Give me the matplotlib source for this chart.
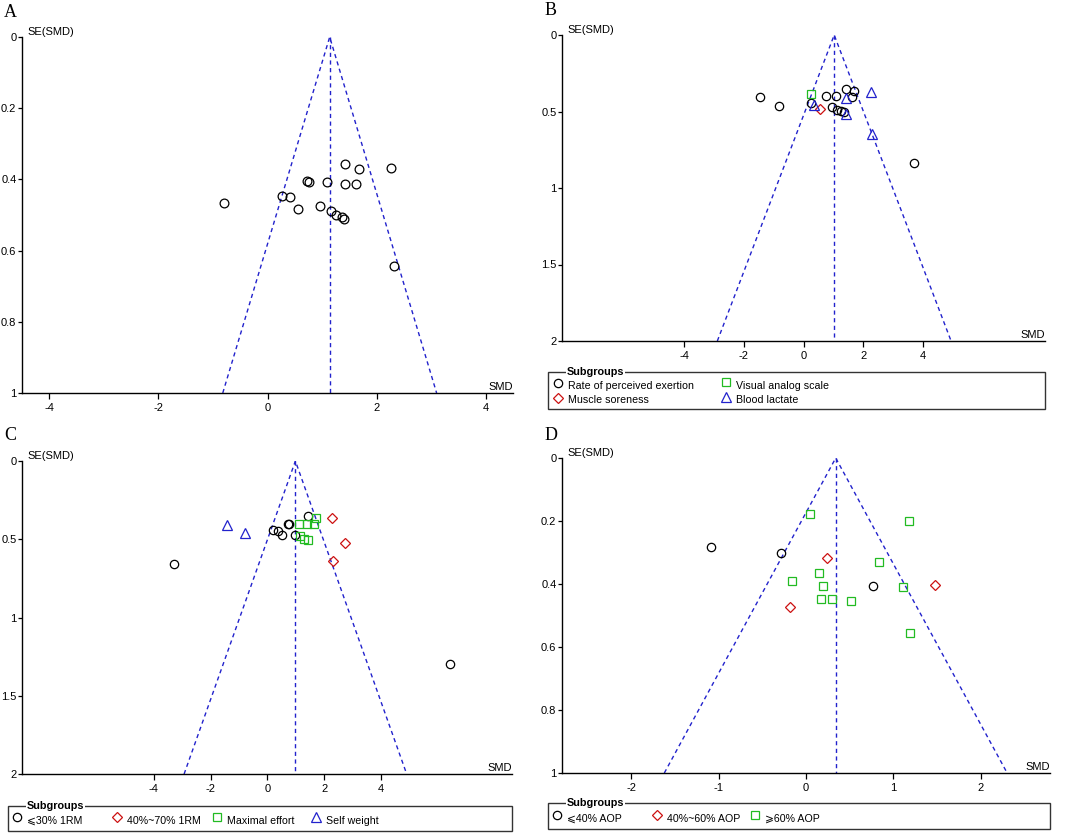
import matplotlib.pyplot as plt
from matplotlib.lines import Line2D
from matplotlib.patches import Rectangle

plt.rcParams['font.family'] = ['Liberation Sans', 'DejaVu Sans']

W, H = 1065, 835

BLACK = 'black'
RED = '#cc1111'
GREEN = '#22bb22'
BLUE = '#2222cc'

# ---- panel A: all studies ----
a_pooled = 1.14
a_smd = [1.42, 1.68, 2.26, 0.72, 0.76, 1.09, 1.42, 1.63, 0.26, 0.41,
         -0.80, 0.56, 0.96, 1.16, 1.26, 1.36, 1.40, 2.32]
a_se = [0.356, 0.371, 0.367, 0.404, 0.407, 0.407, 0.412, 0.412, 0.448, 0.450,
        0.467, 0.482, 0.476, 0.490, 0.499, 0.507, 0.511, 0.642]

# ---- panel B: outcome subgroups ----
b_pooled = 1.03
b_rpe_smd = [-1.45, -0.81, 0.25, 0.75, 1.09, 1.44, 1.70, 1.64, 0.95, 1.14, 1.26, 1.37, 3.70]
b_rpe_se = [0.408, 0.461, 0.442, 0.401, 0.401, 0.353, 0.364, 0.405, 0.470, 0.487, 0.495, 0.504, 0.838]
b_ms_smd = [0.55]
b_ms_se = [0.481]
b_vas_smd = [0.24]
b_vas_se = [0.388]
b_bl_smd = [0.35, 1.42, 2.26, 1.42, 2.31]
b_bl_se = [0.456, 0.415, 0.371, 0.515, 0.648]

# ---- panel C: load subgroups ----
c_pooled = 0.99
c_low_smd = [-3.28, 6.44, 1.43, 0.73, 0.75, 0.21, 0.36, 0.53, 0.97]
c_low_se = [0.657, 1.296, 0.351, 0.400, 0.403, 0.442, 0.446, 0.474, 0.470]
c_mid_smd = [2.29, 2.75, 2.31]
c_mid_se = [0.366, 0.521, 0.638]
c_max_smd = [1.70, 1.10, 1.40, 1.63, 1.16, 1.28, 1.42]
c_max_se = [0.362, 0.401, 0.405, 0.405, 0.482, 0.497, 0.503]
c_sw_smd = [-1.43, -0.80]
c_sw_se = [0.410, 0.463]

# ---- panel D: AOP subgroups ----
d_pooled = 0.34
d_low_smd = [-1.09, -0.29, 0.77]
d_low_se = [0.283, 0.303, 0.407]
d_mid_smd = [0.24, -0.18, 1.47]
d_mid_se = [0.319, 0.473, 0.404]
d_high_smd = [0.05, 1.18, 0.83, 0.15, -0.16, 0.19, 0.17, 0.30, 0.51, 1.11, 1.19]
d_high_se = [0.177, 0.199, 0.329, 0.365, 0.392, 0.407, 0.448, 0.448, 0.455, 0.410, 0.557]


def fx(px):
    return px / W


def fy(py):
    return 1 - py / H


def funnel(rect, letter, letter_xy, pooled, groups, xlim, xticks, ymax, yticks, yfmt):
    l, t, r, b = rect
    ax = fig.add_axes([fx(l), fy(b), fx(r) - fx(l), fy(t) - fy(b)])
    # funnel limits (95% pseudo CI)
    ax.plot([pooled - 1.96 * ymax, pooled, pooled + 1.96 * ymax], [ymax, 0, ymax],
            color=BLUE, lw=1.0, ls=(0, (3, 2.5)), zorder=1)
    ax.plot([pooled, pooled], [0, ymax], color=BLUE, lw=1.0, ls=(0, (3, 2.5)), zorder=1)
    for xs, ys, mk, col, ms in groups:
        ax.plot(xs, ys, ls='none', marker=mk, ms=ms, mfc='none', mec=col, mew=0.9, zorder=3)
    ax.set_xlim(*xlim)
    ax.set_ylim(ymax, 0)
    ax.set_xticks(xticks)
    ax.set_xticklabels([str(v) for v in xticks])
    ax.set_yticks(yticks)
    ax.set_yticklabels([yfmt(v) for v in yticks])
    for s in ['top', 'right']:
        ax.spines[s].set_visible(False)
    ax.spines['left'].set_linewidth(1.0)
    ax.spines['bottom'].set_linewidth(1.0)
    ax.tick_params(axis='x', labelsize=8, length=4, width=0.9, pad=3, direction='out')
    ax.tick_params(axis='y', labelsize=8, length=3, width=0.9, pad=1, direction='out')
    ax.text(0.012, 1.0, 'SE(SMD)', transform=ax.transAxes, fontsize=8, ha='left', va='bottom')
    ax.text(1.0, 0.004, 'SMD', transform=ax.transAxes, fontsize=8, ha='right', va='bottom')
    fig.text(fx(letter_xy[0]), fy(letter_xy[1]), letter, family='Liberation Serif',
             fontsize=13, ha='left', va='top')
    ax.patch.set_alpha(0)
    return ax


def legend_box(box, title_x, items):
    l, t, r, b = box
    fig.add_artist(Rectangle((fx(l), fy(b)), fx(r) - fx(l), fy(t) - fy(b),
                             transform=fig.transFigure, fill=False, ec='#333333', lw=1.0))
    fig.text(fx(title_x), fy(t), 'Subgroups', fontsize=7.8, fontweight='bold',
             ha='left', va='center',
             bbox=dict(fc='white', ec='none', pad=0.5))
    for label, mk, col, ms, mx, my, ty in items:
        fig.add_artist(Line2D([fx(mx)], [fy(my)], transform=fig.transFigure, ls='none',
                              marker=mk, ms=ms, mfc='none', mec=col, mew=0.9))
        fig.text(fx(mx + 10), fy(ty), label, fontsize=7.7, ha='left', va='center',
                 family=['Liberation Sans', 'DejaVu Sans'])


fig = plt.figure(figsize=(W / 100, H / 100), dpi=100)

fmt_a = lambda v: '0' if v == 0 else ('1' if v == 1 else f'{v:.1f}')
fmt_b = lambda v: f'{v:g}'

funnel((22, 37, 513, 393), 'A', (4, 4), a_pooled,
       [(a_smd, a_se, 'o', BLACK, 6.3)],
       (-4.5, 4.5), [-4, -2, 0, 2, 4], 1.0, [0, 0.2, 0.4, 0.6, 0.8, 1.0], fmt_a)

funnel((562, 35, 1045, 341), 'B', (545, 2), b_pooled,
       [(b_rpe_smd, b_rpe_se, 'o', BLACK, 6.0),
        (b_ms_smd, b_ms_se, 'D', RED, 5.0),
        (b_vas_smd, b_vas_se, 's', GREEN, 5.2),
        (b_bl_smd, b_bl_se, '^', BLUE, 7.2)],
       (-8.1, 8.1), [-4, -2, 0, 2, 4], 2.0, [0, 0.5, 1, 1.5, 2], fmt_b)

funnel((22, 461, 512, 774), 'C', (4, 427), c_pooled,
       [(c_low_smd, c_low_se, 'o', BLACK, 6.0),
        (c_mid_smd, c_mid_se, 'D', RED, 5.2),
        (c_max_smd, c_max_se, 's', GREEN, 5.2),
        (c_sw_smd, c_sw_se, '^', BLUE, 7.0)],
       (-8.64, 8.62), [-4, -2, 0, 2, 4], 2.0, [0, 0.5, 1, 1.5, 2], fmt_b)

funnel((562, 458, 1050, 773), 'D', (545, 427), d_pooled,
       [(d_low_smd, d_low_se, 'o', BLACK, 6.0),
        (d_mid_smd, d_mid_se, 'D', RED, 5.4),
        (d_high_smd, d_high_se, 's', GREEN, 5.4)],
       (-2.79, 2.79), [-2, -1, 0, 1, 2], 1.0, [0, 0.2, 0.4, 0.6, 0.8, 1.0], fmt_a)

legend_box((548, 372, 1045, 409), 567,
           [('Rate of perceived exertion', 'o', BLACK, 6.0, 558, 383, 386),
            ('Muscle soreness', 'D', RED, 5.4, 558, 398, 400),
            ('Visual analog scale', 's', GREEN, 5.4, 726, 382, 386),
            ('Blood lactate', '^', BLUE, 7.2, 726, 397, 400)])

legend_box((8, 806, 512, 831), 27,
           [('⩽30% 1RM', 'o', BLACK, 6.0, 17, 817, 821),
            ('40%~70% 1RM', 'D', RED, 5.4, 117, 817, 821),
            ('Maximal effort', 's', GREEN, 5.4, 217, 817, 821),
            ('Self weight', '^', BLUE, 7.2, 316, 817, 821)])

legend_box((548, 803, 1050, 829), 567,
           [('⩽40% AOP', 'o', BLACK, 6.0, 557, 815, 819),
            ('40%~60% AOP', 'D', RED, 5.4, 657, 815, 819),
            ('⩾60% AOP', 's', GREEN, 5.4, 755, 815, 819)])

fig.savefig('out.png', dpi=100)
